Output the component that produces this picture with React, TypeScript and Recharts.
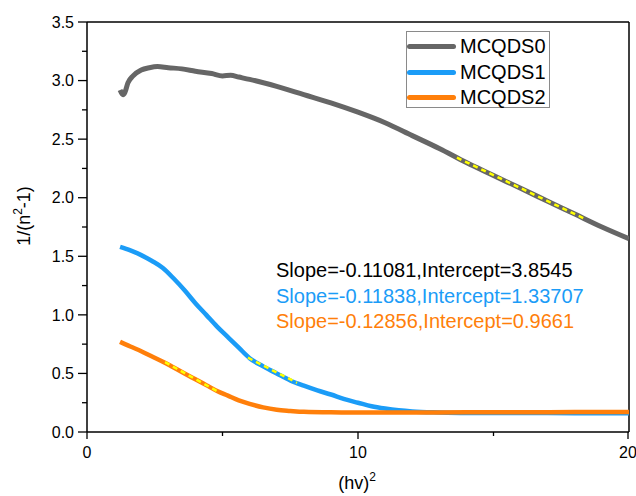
import React from 'react';
import { LineChart, Line, XAxis, YAxis, ReferenceLine, Legend } from 'recharts';

document.body.style.margin = '0';

// MCQDS0 curve
const X0 = [1.22, 1.33, 1.4, 1.51, 1.7, 2.0, 2.3, 2.6, 3.0, 3.5, 4.0, 4.6, 5.0, 5.3, 5.6, 6.0, 7.0, 8.0, 9.0, 10.0, 11.0, 12.0, 13.0, 14.0, 15.0, 16.0, 17.0, 18.0, 19.0, 20.0];
const Y0 = [2.92, 2.88, 2.9, 2.98, 3.04, 3.09, 3.11, 3.12, 3.11, 3.1, 3.08, 3.06, 3.04, 3.045, 3.03, 3.01, 2.95, 2.88, 2.81, 2.73, 2.64, 2.53, 2.42, 2.3, 2.19, 2.08, 1.97, 1.86, 1.75, 1.65];

// MCQDS1 curve
const X1 = [1.22, 1.6, 2.0, 2.4, 2.8, 3.2, 3.6, 4.0, 4.4, 4.8, 5.2, 5.6, 6.0, 6.5, 7.0, 7.5, 8.0, 8.5, 9.0, 9.5, 10.0, 10.5, 11.0, 11.5, 12.0, 13.0, 14.0, 16.0, 18.0, 20.0];
const Y1 = [1.58, 1.55, 1.51, 1.46, 1.4, 1.31, 1.21, 1.1, 1.0, 0.9, 0.81, 0.72, 0.63, 0.56, 0.5, 0.44, 0.395, 0.355, 0.32, 0.28, 0.25, 0.22, 0.2, 0.185, 0.175, 0.167, 0.163, 0.162, 0.161, 0.16];

// MCQDS2 curve
const X2 = [1.22, 1.6, 2.0, 2.4, 2.8, 3.2, 3.6, 4.0, 4.4, 4.8, 5.2, 5.6, 6.0, 6.5, 7.0, 7.5, 8.0, 9.0, 10.0, 12.0, 14.0, 16.0, 18.0, 20.0];
const Y2 = [0.77, 0.73, 0.69, 0.645, 0.6, 0.55, 0.5, 0.45, 0.4, 0.35, 0.31, 0.27, 0.24, 0.21, 0.19, 0.18, 0.172, 0.168, 0.167, 0.167, 0.168, 0.169, 0.17, 0.17];

// linear fit segments (yellow dashes)
const FIT0_X = [13.65, 18.4];
const FIT0_Y = [2.342, 1.816];
const FIT1_X = [5.94, 7.75];
const FIT1_Y = [0.634, 0.42];
const FIT2_X = [2.88, 4.8];
const FIT2_Y = [0.596, 0.349];

const NAMES = ['MCQDS0', 'MCQDS1', 'MCQDS2'];
const COLORS = ['#666666', '#1B9CF7', '#FF7F0A'];
const FIT_TEXT = [
  'Slope=-0.11081,Intercept=3.8545',
  'Slope=-0.11838,Intercept=1.33707',
  'Slope=-0.12856,Intercept=0.9661',
];
const TEXT_COLORS = ['#000000', '#1B9CF7', '#FF7F0A'];

const X_TICKS = [0, 5, 10, 15, 20];
const Y_TICKS = [0, 0.25, 0.5, 0.75, 1, 1.25, 1.5, 1.75, 2, 2.25, 2.5, 2.75, 3, 3.25, 3.5];

const FONT = 'Arial, "Liberation Sans", Helvetica, sans-serif';

const zip = (xs: number[], ys: number[]) => xs.map((x, i) => ({ x, y: ys[i] }));

const series = [zip(X0, Y0), zip(X1, Y1), zip(X2, Y2)];
const fits = [zip(FIT0_X, FIT0_Y), zip(FIT1_X, FIT1_Y), zip(FIT2_X, FIT2_Y)];

const X_TICK_SIZE = 7;
const X_TICK_MARGIN = 8;
const Y_TICK_SIZE = 10;
const Y_TICK_MARGIN = 3;

const XTick = (props: any) => {
  const { x, y, payload } = props;
  const v = payload.value;
  const major = v % 10 === 0;
  const axisY = y - X_TICK_SIZE - X_TICK_MARGIN;
  return (
    <g>
      <line x1={x} x2={x} y1={axisY} y2={axisY + (major ? 7 : 4)} stroke="#000" strokeWidth={1.3} />
      {major && (
        <text x={x} y={y} dy="0.71em" textAnchor="middle" fontSize={16} fontFamily={FONT} fill="#000">
          {v}
        </text>
      )}
    </g>
  );
};

const YTick = (props: any) => {
  const { x, y, payload } = props;
  const v = payload.value;
  const major = Math.abs(v * 2 - Math.round(v * 2)) < 1e-6;
  const axisX = x + Y_TICK_SIZE + Y_TICK_MARGIN;
  return (
    <g>
      <line x1={axisX - (major ? 9 : 5)} x2={axisX} y1={y} y2={y} stroke="#000" strokeWidth={1.3} />
      {major && (
        <text x={x} y={y} dy="0.355em" textAnchor="end" fontSize={16} fontFamily={FONT} fill="#000">
          {v.toFixed(1)}
        </text>
      )}
    </g>
  );
};

const XLabel = () => (
  <text x={357} y={489} textAnchor="middle" fontSize={18} fontFamily={FONT} fill="#000">
    (hv)<tspan dy={-8} fontSize={12}>2</tspan>
  </text>
);

const YLabel = () => (
  <text x={30} y={216} transform="rotate(-90, 30, 216)" textAnchor="middle" fontSize={18} fontFamily={FONT} fill="#000">
    1/(n<tspan dy={-8} fontSize={12}>2</tspan><tspan dy={8}>-1)</tspan>
  </text>
);

const LegendBox = () => (
  <div style={{ border: '1px solid #8a8a8a', width: 144, height: 77, boxSizing: 'border-box', background: '#fff', paddingTop: 2 }}>
    {NAMES.map((n, i) => (
      <div key={n} style={{ display: 'flex', alignItems: 'center', height: 25.5, fontFamily: FONT, fontSize: 20, color: '#000' }}>
        <span style={{ width: 49, height: 5, background: COLORS[i], borderRadius: 3, marginRight: 4 }} />
        <span>{n}</span>
      </div>
    ))}
  </div>
);

export default function App() {
  return (
    <div style={{ position: 'relative', width: 636, height: 496, background: '#fff' }}>
      <LineChart width={636} height={496} margin={{ top: 22, right: 7, left: 0, bottom: 0 }}>
        <XAxis
          dataKey="x"
          type="number"
          domain={[0, 20]}
          ticks={X_TICKS}
          allowDataOverflow
          height={64}
          tickSize={X_TICK_SIZE}
          tickMargin={X_TICK_MARGIN}
          tickLine={false}
          tick={<XTick />}
          axisLine={{ stroke: '#000', strokeWidth: 1.5 }}
          label={{ content: XLabel }}
        />
        <YAxis
          dataKey="y"
          type="number"
          domain={[0, 3.5]}
          ticks={Y_TICKS}
          allowDataOverflow
          width={87}
          interval={0}
          tickSize={Y_TICK_SIZE}
          tickMargin={Y_TICK_MARGIN}
          tickLine={false}
          tick={<YTick />}
          axisLine={{ stroke: '#000', strokeWidth: 1.5 }}
          label={{ content: YLabel }}
        />
        <ReferenceLine y={3.5} stroke="#000" strokeWidth={1.5} />
        <ReferenceLine x={20} stroke="#000" strokeWidth={1.5} />
        {series.map((d, i) => (
          <Line
            key={NAMES[i]}
            data={d}
            dataKey="y"
            name={NAMES[i]}
            type="monotone"
            stroke={COLORS[i]}
            strokeWidth={i === 0 ? 5 : 4.5}
            dot={false}
            isAnimationActive={false}
          />
        ))}
        {fits.map((d, i) => (
          <Line
            key={'fit' + i}
            data={d}
            dataKey="y"
            legendType="none"
            type="linear"
            stroke="#FFFF00"
            strokeWidth={2.5}
            strokeDasharray="5 4"
            dot={false}
            isAnimationActive={false}
          />
        ))}
        <Legend
          layout="vertical"
          align="center"
          verticalAlign="middle"
          content={<LegendBox />}
          wrapperStyle={{ left: 406, top: 31, width: 144, height: 77 }}
        />
      </LineChart>
      {FIT_TEXT.map((t, i) => (
        <div
          key={t}
          style={{
            position: 'absolute',
            left: 276,
            top: 257 + i * 25.5,
            fontFamily: FONT,
            fontSize: 20,
            lineHeight: '26px',
            color: TEXT_COLORS[i],
            whiteSpace: 'nowrap',
          }}
        >
          {t}
        </div>
      ))}
    </div>
  );
}
